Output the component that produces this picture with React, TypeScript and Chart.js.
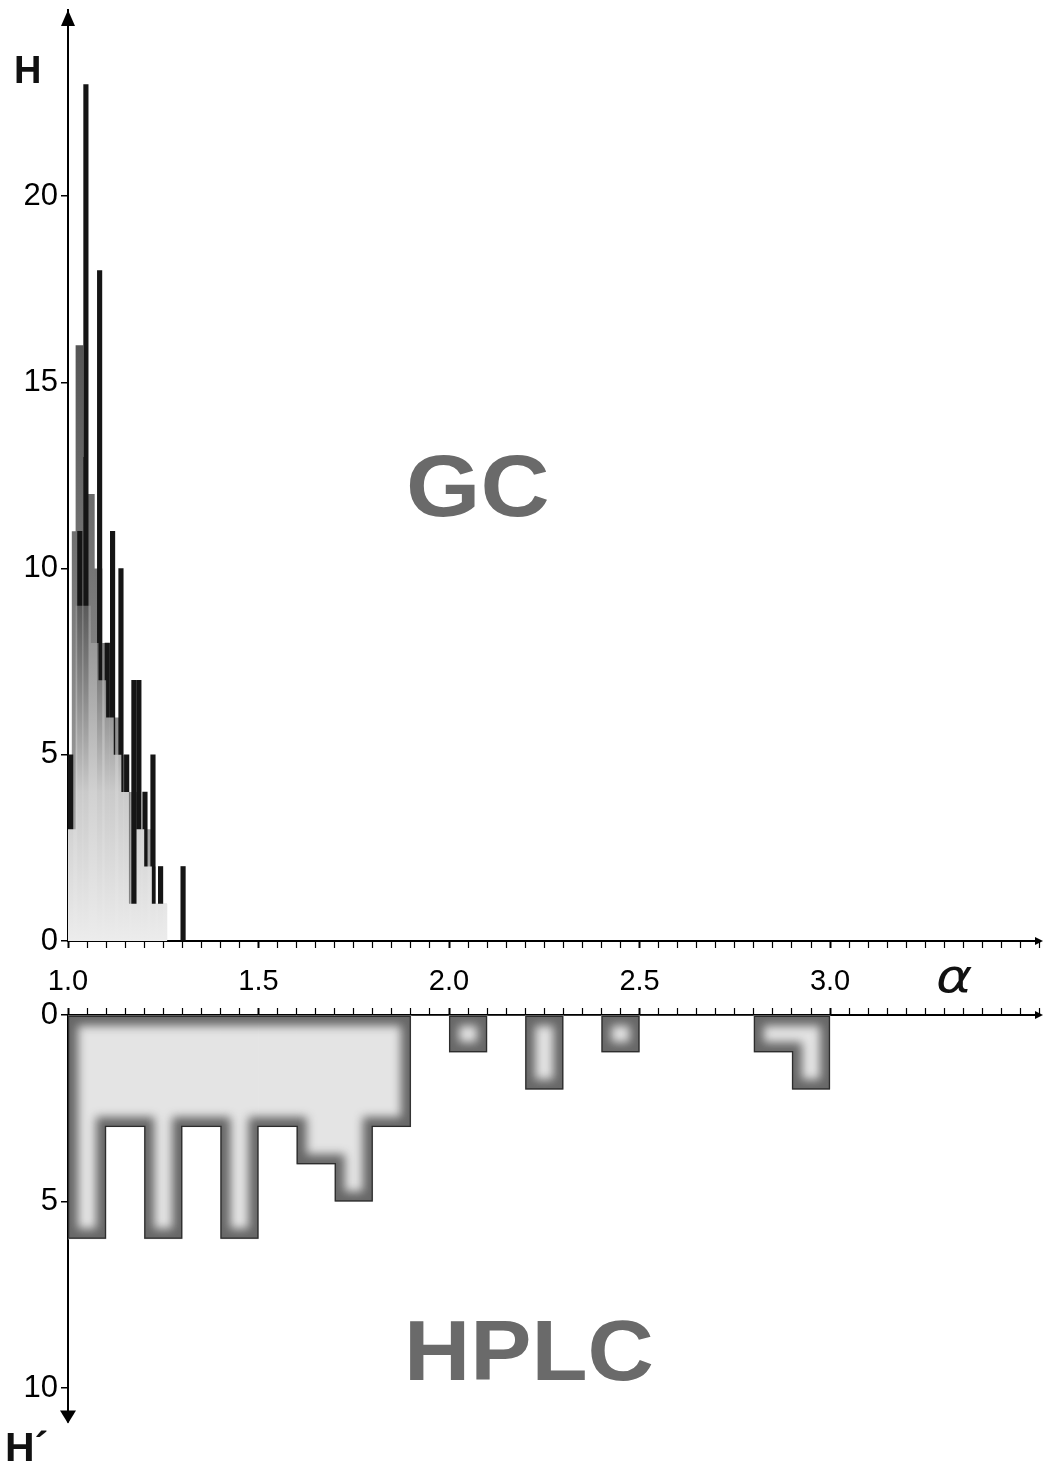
import React, { useEffect, useRef } from "react";
import { Chart, registerables } from "chart.js";

Chart.register(...registerables);

// ---------- shared axis data ----------
const X_MIN = 1.0;
const X_MAX = 3.551;
const X_TICK_STEP = 0.05;
const X_LABELS = [1.0, 1.5, 2.0, 2.5, 3.0];

// ---------- GC (top) ----------
const gcBinEdges = [
  1.0, 1.01, 1.02, 1.03, 1.04, 1.05, 1.06, 1.07, 1.08, 1.09, 1.1, 1.11, 1.12, 1.13,
  1.14, 1.15, 1.16, 1.17, 1.18, 1.19, 1.2, 1.21, 1.22, 1.23, 1.24, 1.25, 1.26, 1.27,
];
// full histogram steps (mid grey)
const gcBinHeights = [
  3, 3, 11, 16, 16, 13, 12, 12, 10, 10, 8, 8, 7, 6, 6, 5, 4, 4, 4, 4, 3, 3, 3, 2, 1, 1, 1,
];
// light lower shading
const gcShadeHeights = [
  3, 3, 3, 9, 9, 9, 9, 8, 8, 7, 7, 6, 6, 5, 5, 4, 4, 1, 1, 3, 3, 2, 2, 1, 1, 1, 1,
];
// dark spikes
const gcSpikeAlpha = [
  1.007, 1.031, 1.047, 1.083, 1.103, 1.117, 1.139, 1.154, 1.173, 1.186, 1.202, 1.223, 1.243, 1.302,
];
const gcSpikeHeights = [5, 11, 23, 18, 8, 11, 10, 5, 7, 7, 4, 5, 2, 2];
const GC_Y_MAX = 25;
const gcYTicks = [0, 5, 10, 15, 20];

// ---------- HPLC (bottom) ----------
const HPLC_BIN_WIDTH = 0.1;
const hplcBinCenters = [
  1.05, 1.15, 1.25, 1.35, 1.45, 1.55, 1.65, 1.75, 1.85, 1.95, 2.05, 2.15, 2.25, 2.35,
  2.45, 2.55, 2.65, 2.75, 2.85, 2.95,
];
const hplcCounts = [6, 3, 6, 3, 6, 3, 4, 5, 3, 0, 1, 0, 2, 0, 1, 0, 0, 0, 1, 2];
const HPLC_Y_MAX = 10.9;
const hplcYTicks = [0, 5, 10];

const FONT = "'Liberation Sans', Arial, sans-serif";
const CANVAS_W = 1043;
const AXIS_W = 68;
const PAD_R = 3;

const isLabel = (v: number) => X_LABELS.some((l) => Math.abs(l - v) < 1e-6);

function xAxis(position: "top" | "bottom", showLabels: boolean, height: number) {
  return {
    type: "linear" as const,
    position,
    min: X_MIN,
    max: X_MAX,
    offset: false,
    z: 1,
    afterBuildTicks: (scale: any) => {
      const t: any[] = [];
      for (let v = X_MIN; v <= X_MAX + 1e-9; v += X_TICK_STEP) t.push({ value: Math.round(v * 100) / 100 });
      scale.ticks = t;
    },
    afterFit: (scale: any) => {
      scale.height = height;
      scale.paddingLeft = 0;
      scale.paddingRight = 0;
      scale.paddingTop = 0;
      scale.paddingBottom = 0;
    },
    ticks: {
      autoSkip: false,
      maxRotation: 0,
      padding: 17,
      color: "#000",
      font: { family: FONT, size: 29 },
      callback: (v: any) => (showLabels && isLabel(Number(v)) ? Number(v).toFixed(1) : ""),
    },
    grid: {
      drawOnChartArea: false,
      offset: false,
      tickLength: 7,
      color: "#000",
      tickWidth: (c: any) => (c.tick && isLabel(c.tick.value) ? 2 : 1.2),
    },
    border: { display: true, color: "#000", width: 2 },
  };
}

function yAxis(max: number, ticksList: number[], reverse: boolean) {
  return {
    type: "linear" as const,
    position: "left" as const,
    min: 0,
    max,
    reverse,
    z: 1,
    afterBuildTicks: (scale: any) => {
      scale.ticks = ticksList.map((v) => ({ value: v }));
    },
    afterFit: (scale: any) => {
      scale.width = AXIS_W;
      scale.paddingLeft = 0;
      scale.paddingRight = 0;
      scale.paddingTop = 0;
      scale.paddingBottom = 0;
    },
    ticks: {
      padding: 3,
      color: "#000",
      font: { family: FONT, size: 31 },
      callback: (v: any) => String(v),
    },
    grid: { drawOnChartArea: false, tickLength: 7, color: "#000", lineWidth: 1.5 },
    border: { display: true, color: "#000", width: 2 },
  };
}

function arrowPlugin(dir: "up" | "down") {
  return {
    id: "arrows",
    afterDraw(chart: any) {
      const { ctx, chartArea: a } = chart;
      ctx.save();
      ctx.fillStyle = "#000";
      ctx.beginPath();
      if (dir === "up") {
        ctx.moveTo(a.left, a.top);
        ctx.lineTo(a.left - 7, a.top + 16);
        ctx.lineTo(a.left + 7, a.top + 16);
      } else {
        ctx.moveTo(a.left, a.bottom + 2);
        ctx.lineTo(a.left - 8, a.bottom - 11);
        ctx.lineTo(a.left + 8, a.bottom - 11);
      }
      ctx.closePath();
      ctx.fill();
      const yx = dir === "up" ? a.bottom : a.top;
      ctx.beginPath();
      ctx.moveTo(a.right + 3, yx);
      ctx.lineTo(a.right - 5, yx - 4);
      ctx.lineTo(a.right - 5, yx + 4);
      ctx.closePath();
      ctx.fill();
      ctx.restore();
    },
  };
}

const innerShadePlugin = {
  id: "innerShade",
  afterDatasetsDraw(chart: any) {
    const meta = chart.getDatasetMeta(0);
    const ctx = chart.ctx;
    const bars = meta.data
      .map((el: any) => el.getProps(["x", "y", "base", "width"], true))
      .filter((b: any) => Math.abs(b.base - b.y) > 0.5);
    if (!bars.length) return;
    ctx.save();
    ctx.beginPath();
    bars.forEach((b: any) =>
      ctx.rect(b.x - b.width / 2, Math.min(b.y, b.base), b.width, Math.abs(b.y - b.base))
    );
    ctx.clip();
    ctx.beginPath();
    let prevRight: number | null = null;
    let base = bars[0].base;
    bars.forEach((b: any) => {
      const l = b.x - b.width / 2;
      const r = b.x + b.width / 2;
      if (prevRight === null || Math.abs(l - prevRight) > 1) {
        if (prevRight !== null) {
          ctx.lineTo(prevRight, base);
          ctx.closePath();
        }
        ctx.moveTo(l, b.base);
      }
      ctx.lineTo(l, b.y);
      ctx.lineTo(r, b.y);
      prevRight = r;
      base = b.base;
    });
    if (prevRight !== null) ctx.lineTo(prevRight, base);
    ctx.closePath();
    ctx.filter = "blur(5px)";
    ctx.lineWidth = 20;
    ctx.strokeStyle = "rgba(50,50,50,0.7)";
    ctx.stroke();
    ctx.filter = "none";
    ctx.lineWidth = 2.5;
    ctx.strokeStyle = "rgba(30,30,30,0.8)";
    ctx.stroke();
    ctx.restore();
  },
};

function vGrad(ch: any, stops: [number, string][], fallback: string) {
  const y = ch.scales && ch.scales.y;
  if (!ch.chartArea || !y) return fallback;
  const y0 = y.getPixelForValue(stops[0][0]);
  const y1 = y.getPixelForValue(stops[stops.length - 1][0]);
  const g = ch.ctx.createLinearGradient(0, y0, 0, y1);
  const span = stops[stops.length - 1][0] - stops[0][0];
  stops.forEach(([v, c]) => g.addColorStop((v - stops[0][0]) / span, c));
  return g;
}

function GCChart() {
  const ref = useRef<HTMLCanvasElement>(null);
  useEffect(() => {
    if (!ref.current) return;
    const fullData = gcBinEdges.map((x, i) => ({ x, y: i < gcBinHeights.length ? gcBinHeights[i] : 0 }));
    const shadeData = gcBinEdges.map((x, i) => ({ x, y: i < gcShadeHeights.length ? gcShadeHeights[i] : 0 }));
    const spikeData = gcSpikeAlpha.map((x, i) => ({ x, y: gcSpikeHeights[i] }));
    const chart = new Chart(ref.current, {
      type: "bar",
      data: {
        datasets: [
          {
            type: "line",
            data: shadeData,
            stepped: "after",
            fill: "origin",
            borderWidth: 0,
            borderColor: "rgba(0,0,0,0)",
            pointRadius: 0,
            order: 0,
            backgroundColor: (c: any) =>
              vGrad(
                c.chart,
                [
                  [0, "rgba(236,236,236,1)"],
                  [4, "rgba(212,212,212,0.95)"],
                  [9, "rgba(160,160,160,0.5)"],
                ],
                "#dddddd"
              ),
          } as any,
          {
            type: "bar",
            data: spikeData,
            backgroundColor: "#151515",
            borderWidth: 0,
            barThickness: 4.5,
            order: 1,
          } as any,
          {
            type: "line",
            data: fullData,
            stepped: "after",
            fill: "origin",
            borderWidth: 0,
            borderColor: "rgba(0,0,0,0)",
            pointRadius: 0,
            order: 2,
            backgroundColor: (c: any) =>
              vGrad(
                c.chart,
                [
                  [0, "#b4b4b4"],
                  [8, "#808080"],
                  [16, "#555555"],
                ],
                "#888888"
              ),
          } as any,
        ],
      },
      options: {
        animation: false,
        responsive: false,
        events: [],
        layout: { padding: { top: 10, right: PAD_R, left: 0, bottom: 0 } },
        plugins: { legend: { display: false }, tooltip: { enabled: false } },
        scales: {
          x: xAxis("bottom", true, 59) as any,
          y: yAxis(GC_Y_MAX, gcYTicks, false) as any,
        },
      },
      plugins: [arrowPlugin("up")],
    });
    return () => chart.destroy();
  }, []);
  return (
    <canvas
      ref={ref}
      width={CANVAS_W}
      height={1000}
      style={{ position: "absolute", left: 0, top: 0, width: CANVAS_W, height: 1000 }}
    />
  );
}

function HPLCChart() {
  const ref = useRef<HTMLCanvasElement>(null);
  useEffect(() => {
    if (!ref.current) return;
    const data = hplcBinCenters.map((x, i) => ({ x, y: hplcCounts[i] }));
    const barPx = (HPLC_BIN_WIDTH / (X_MAX - X_MIN)) * (CANVAS_W - AXIS_W - PAD_R);
    const chart = new Chart(ref.current, {
      type: "bar",
      data: {
        datasets: [
          {
            data,
            backgroundColor: "#e4e4e4",
            borderWidth: 0,
            barThickness: barPx,
          } as any,
        ],
      },
      options: {
        animation: false,
        responsive: false,
        events: [],
        layout: { padding: { top: 0, right: PAD_R, left: 0, bottom: 42.4 } },
        plugins: { legend: { display: false }, tooltip: { enabled: false } },
        scales: {
          x: xAxis("top", false, 35) as any,
          y: yAxis(HPLC_Y_MAX, hplcYTicks, true) as any,
        },
      },
      plugins: [innerShadePlugin, arrowPlugin("down")],
    });
    return () => chart.destroy();
  }, []);
  return (
    <canvas
      ref={ref}
      width={CANVAS_W}
      height={484}
      style={{ position: "absolute", left: 0, top: 980, width: CANVAS_W, height: 484 }}
    />
  );
}

const textBase: React.CSSProperties = {
  position: "absolute",
  lineHeight: 1,
  whiteSpace: "nowrap",
  margin: 0,
  fontFamily: FONT,
};

export default function App() {
  return (
    <div
      style={{
        position: "absolute",
        left: 0,
        top: 0,
        width: CANVAS_W,
        height: 1464,
        background: "#fff",
        overflow: "hidden",
      }}
    >
      <GCChart />
      <HPLCChart />
      <div style={{ ...textBase, left: 14, top: 51, fontSize: 38, fontWeight: 700, color: "#111" }}>H</div>
      <div style={{ ...textBase, left: 5, top: 1427, fontSize: 41, fontWeight: 700, color: "#111" }}>H´</div>
      <div
        style={{
          ...textBase,
          left: 936,
          top: 953,
          fontSize: 46,
          fontFamily: "'DejaVu Sans', sans-serif",
          fontStyle: "italic",
          color: "#111",
          transform: "scaleX(1.2)",
          transformOrigin: "left top",
        }}
      >
        α
      </div>
      <div
        style={{
          ...textBase,
          left: 406,
          top: 442,
          fontSize: 87,
          fontWeight: 700,
          color: "#6a6a6a",
          transform: "scaleX(1.1)",
          transformOrigin: "left top",
        }}
      >
        GC
      </div>
      <div
        style={{
          ...textBase,
          left: 404,
          top: 1308,
          fontSize: 85,
          fontWeight: 700,
          color: "#6a6a6a",
          transform: "scaleX(1.08)",
          transformOrigin: "left top",
        }}
      >
        HPLC
      </div>
    </div>
  );
}
